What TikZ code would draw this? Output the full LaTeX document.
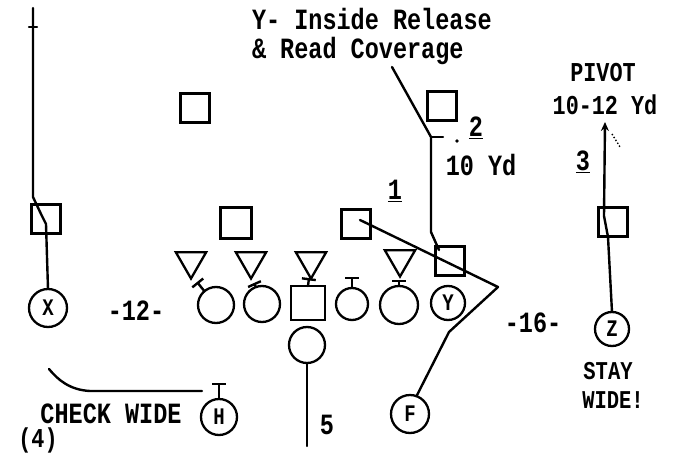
\documentclass[tikz,border=0pt]{standalone}
\usepackage{fontspec}
\usepackage{graphicx}
\setmainfont{Liberation Mono}
\usetikzlibrary{shapes.geometric,arrows.meta}
\newcommand{\tall}[1]{\scalebox{1}[1.25]{#1}}
\begin{document}
\begin{tikzpicture}[x=1pt,y=-1pt,
  every node/.style={inner sep=0pt, outer sep=0pt},
  sq/.style={draw, rectangle, line width=2.2pt, minimum size=29pt},
  pc/.style={draw, circle, line width=2.3pt, minimum size=36pt},
  lc/.style={draw, circle, line width=2.3pt, minimum size=36pt, font=\bfseries\fontsize{19}{19}\selectfont},
  dt/.style={draw, regular polygon, regular polygon sides=3, shape border rotate=180, minimum size=35pt, line width=2.3pt},
  route/.style={line width=2.4pt, line join=round, line cap=round},
  blk/.style={route, -{Bar[width=14pt,line width=2.4pt]}},
  lab/.style={font=\bfseries\fontsize{23.5}{29}\selectfont},
  labs/.style={font=\bfseries\fontsize{21.8}{21.8}\selectfont},
  labx/.style={font=\bfseries\fontsize{20.5}{20.5}\selectfont}]
\fill[white] (0,0) rectangle (677,455);
\useasboundingbox (0,0) rectangle (677,455);

% defenders
\node[sq] (S1) at (195,108) {};
\node[sq] (S2) at (442,106) {};
\node[sq, minimum size=31pt] (LB1) at (236,223) {};
\node[sq] (LB2) at (356,224) {};
\node[sq] (XS) at (46,219) {};
\node[sq] (ZS) at (613,222) {};
\node[sq] (YS) at (450,261) {};
\node[dt] (T1) at (191,261) {};
\node[dt] (T2) at (251,261) {};
\node[dt] (T3) at (311,261) {};
\node[dt] (T4) at (400,259) {};

% offense
\node[pc] (G1) at (216,305) {};
\node[pc] (G2) at (262,304) {};
\node[sq, minimum size=34pt] (C) at (308,303) {};
\node[pc, minimum size=32pt] (G3) at (352,304) {};
\node[pc, minimum size=38pt] (G4) at (399,305) {};
\node[lc, minimum size=34pt] (Y) at (448,303) {\tall{Y}};
\node[lc, minimum size=38pt] (X) at (48,308) {\tall{X}};
\node[pc] (QB) at (307,345) {};
\node[lc] (H) at (219,417) {\tall{H}};
\node[lc, minimum size=38pt] (F) at (410,414) {\tall{F}};
\node[lc, minimum size=34pt] (Z) at (612,329) {\tall{Z}};

% route coordinates
\coordinate (x1) at (46,224);
\coordinate (x2) at (41,214);
\coordinate (x3) at (33,197);
\coordinate (x4) at (33,8);
\coordinate (xt) at (33,27);
\coordinate (z1) at (608,237);
\coordinate (z2) at (604,216);
\coordinate (z3) at (605,122);
\coordinate (zd1) at (612,134);
\coordinate (zd2) at (620,147);
\coordinate (y0) at (439,250);
\coordinate (y1) at (431,232);
\coordinate (y2) at (431,137);
\coordinate (y3) at (392,67);
\coordinate (y2d) at (443,137);
\coordinate (ydot) at (457,141);
\coordinate (f0) at (360,220);
\coordinate (f1) at (498,287);
\coordinate (f2) at (449,332);
\coordinate (b1) at (197,282);
\coordinate (b2) at (254,283);
\coordinate (b3) at (309,278);
\coordinate (b4) at (352,277);
\coordinate (b5) at (399,280);
\coordinate (hb) at (219,383);
\coordinate (h0) at (202,391);
\coordinate (h1) at (90,391);
\coordinate (h2) at (49,369);
\coordinate (q1) at (307,446);

% routes
\draw[route] (X.north) -- (x1) -- (x2) -- (x3) -- (x4);
\draw[route] ([xshift=-4pt]xt) -- ([xshift=4pt]xt);
\draw[route, -{Stealth[length=9pt,width=8pt]}] (Z.north) -- (z1) -- (z2) -- (z3);
\draw[line width=1.4pt, dotted] (zd1) -- (zd2);
\draw[route] (y0) -- (y1) -- (y2) -- (y3);
\draw[route] (y2) -- (y2d);
\fill (ydot) circle (1.8pt);
\draw[route] (f0) -- (f1) -- (f2) -- (F.70);
\draw[blk] (G1.130) -- (b1);
\draw[blk] (G2.110) -- (b2);
\draw[blk] (C.north) -- (b3);
\draw[blk] (G3.north) -- (b4);
\draw[blk] (G4.north) -- (b5);
\draw[blk] (H.north) -- (hb);
\draw[route] (h0) -- (h1) .. controls (70,390) and (58,380) .. (h2);
\draw[route] (QB.south) -- (q1);

% labels
\node[lab, anchor=north west, align=left] (t1) at (252,8) {\tall{Y- Inside Release}\\\tall{\& Read Coverage}};
\node[lab] (n2) at (476,128) {\tall{\underline{2}}};
\node[lab] (yd10) at (481,165) {\tall{10 Yd}};
\node[lab] (n1) at (395,191) {\tall{\underline{1}}};
\node[labs] (piv) at (603,73) {\tall{PIVOT}};
\node[labs] (yd1012) at (605,105) {\tall{10-12 Yd}};
\node[lab] (n3) at (583,162) {\tall{\underline{3}}};
\node[lab] (s12) at (136,311) {\tall{-12-}};
\node[lab] (s16) at (533,323) {\tall{-16-}};
\node[labx] (stay) at (608,371) {\tall{STAY}};
\node[labx] (wide) at (613,400) {\tall{WIDE!}};
\node[lab] (chk) at (111,414) {\tall{CHECK WIDE}};
\node[labs] (n4) at (38,440) {\tall{(4)}};
\node[lab] (n5) at (327,425) {\tall{5}};
\end{tikzpicture}
\end{document}
